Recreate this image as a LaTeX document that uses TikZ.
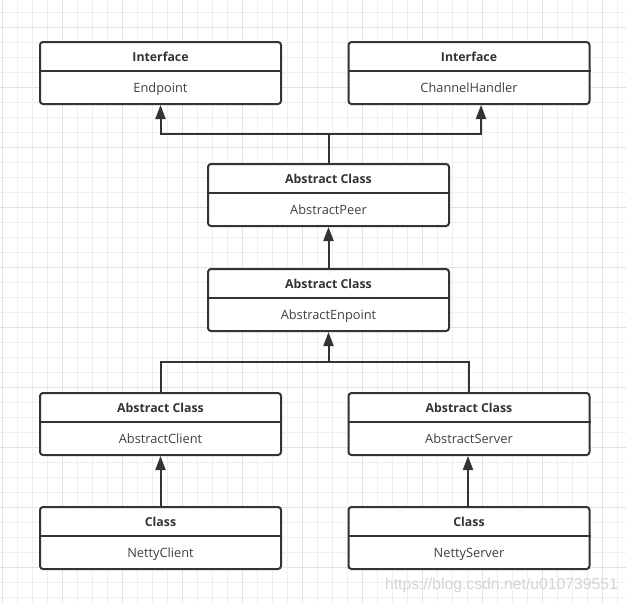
\documentclass[tikz,border=0pt]{standalone}
\usepackage{fontspec}
\setmainfont{Open Sans}
\newfontfamily\wmfont{Liberation Sans}
\usetikzlibrary{arrows.meta,calc}
\definecolor{ink}{HTML}{333333}
\definecolor{txt}{HTML}{404040}
\definecolor{gridminor}{HTML}{EFEFEF}
\definecolor{gridmajor}{HTML}{E2E2E2}
\definecolor{wm}{HTML}{D4D4D4}
\tikzset{
  umlbox/.style={draw=ink, line width=2pt, rounded corners=3pt, minimum width=241pt, minimum height=62pt, inner sep=0pt, fill=white},
  titletext/.style={font=\fontsize{12.3}{14}\selectfont\bfseries, text=ink, inner sep=0pt, anchor=base},
  nametext/.style={font=\fontsize{12.8}{14}\selectfont, text=txt, inner sep=0pt, anchor=base},
  divider/.style={draw=ink, line width=2pt},
  conn/.style={draw=ink, line width=2pt},
  arr/.style={conn, -{Triangle[length=14pt,width=10pt]}},
}
\newcommand{\umlnode}[5]{%
  \node[umlbox] (#1) at (#2,#3) {};
  \draw[divider] ($(#1.north west)+(0,-30pt)$) -- ($(#1.north east)+(0,-30pt)$);
  \node[titletext] (#1-t) at ($(#1.north)+(0,-20.3pt)$) {#4};
  \node[nametext] (#1-n) at ($(#1.north)+(0,-51.5pt)$) {#5};
}
\begin{document}
\begin{tikzpicture}[x=1pt,y=-1pt]
\useasboundingbox (0,0) rectangle (626,603);
\fill[white] (0,0) rectangle (626,603);
% grid
\foreach \i in {0,...,41} {
  \pgfmathsetmacro{\gx}{2.3+15*\i}
  \draw[gridminor, line width=1pt] (\gx,0) -- (\gx,603);
}
\foreach \i in {0,...,40} {
  \pgfmathsetmacro{\gy}{12.3+15*\i}
  \draw[gridminor, line width=1pt] (0,\gy) -- (626,\gy);
}
\foreach \i in {0,...,10} {
  \pgfmathsetmacro{\gx}{2.3+60*\i}
  \draw[gridmajor, line width=1pt] (\gx,0) -- (\gx,603);
}
\foreach \i in {0,...,9} {
  \pgfmathsetmacro{\gy}{27.3+60*\i}
  \draw[gridmajor, line width=1pt] (0,\gy) -- (626,\gy);
}
% boxes
\umlnode{endpoint}{160.5}{73}{Interface}{Endpoint}
\umlnode{handler}{469}{73}{Interface}{ChannelHandler}
\umlnode{peer}{328.5}{195}{Abstract Class}{AbstractPeer}
\umlnode{enpoint}{328.5}{300}{Abstract Class}{AbstractEnpoint}
\umlnode{client}{160.5}{424}{Abstract Class}{AbstractClient}
\umlnode{server}{469}{424}{Abstract Class}{AbstractServer}
\umlnode{nclient}{160.5}{538}{Class}{NettyClient}
\umlnode{nserver}{469}{538}{Class}{NettyServer}
% connectors
\coordinate (j1) at (328.5,134);
\coordinate (j2) at (328.5,362);
\draw[arr] (peer.north) -- (j1) -| (endpoint.south);
\draw[arr] (j1) -| ([xshift=12pt]handler.south);
\draw[arr] (enpoint.north) -- (peer.south);
\draw[arr] (client.north) |- (j2) -- (enpoint.south);
\draw[conn] (server.north) |- (j2);
\draw[arr] (nclient.north) -- (client.south);
\draw[arr] ([xshift=-1pt]nserver.north) -- ([xshift=-1pt]server.south);
% watermark
\node[font=\wmfont\fontsize{15.75}{18}\selectfont, text=wm, inner sep=0pt] (wmark) at (501.5,585) {https://blog.csdn.net/u010739551};
\end{tikzpicture}
\end{document}
